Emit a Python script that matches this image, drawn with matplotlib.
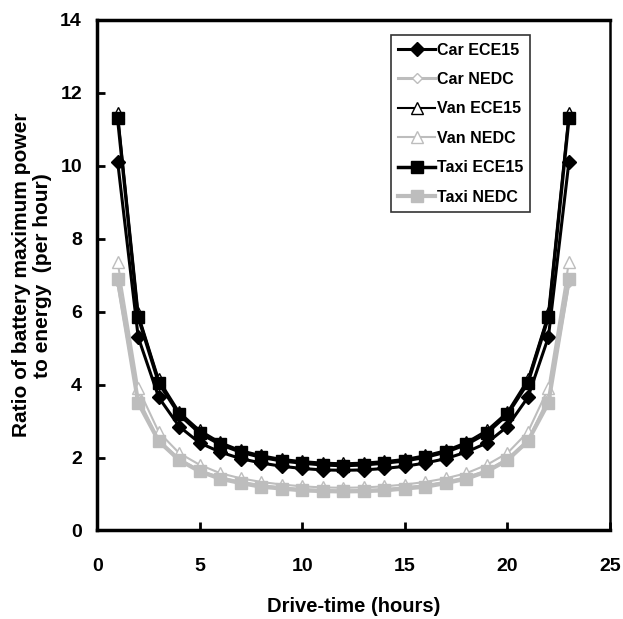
import numpy as np
import matplotlib.pyplot as plt

plt.rcParams["font.family"] = "Liberation Sans"
plt.rcParams["font.weight"] = "bold"

# Drive-time (hours)
hours = list(range(1, 24))

half_car_ece = [10.1, 5.3, 3.65, 2.85, 2.4, 2.15, 1.97, 1.85, 1.76, 1.7, 1.66, 1.65]
half_car_nedc = [6.8, 3.6, 2.45, 1.95, 1.63, 1.45, 1.32, 1.23, 1.17, 1.12, 1.1, 1.08]
half_van_ece = [11.45, 5.95, 4.15, 3.25, 2.75, 2.42, 2.2, 2.06, 1.96, 1.9, 1.86, 1.84]
half_van_nedc = [7.35, 3.9, 2.7, 2.12, 1.8, 1.57, 1.43, 1.33, 1.26, 1.21, 1.18, 1.17]
half_taxi_ece = [11.3, 5.85, 4.05, 3.18, 2.67, 2.36, 2.15, 2.01, 1.91, 1.85, 1.8, 1.78]
half_taxi_nedc = [6.9, 3.5, 2.45, 1.93, 1.62, 1.42, 1.3, 1.2, 1.15, 1.1, 1.08, 1.07]


def mirror(h):
    return h + h[-2::-1]


car_ece = mirror(half_car_ece)
car_nedc = mirror(half_car_nedc)
van_ece = mirror(half_van_ece)
van_nedc = mirror(half_van_nedc)
taxi_ece = mirror(half_taxi_ece)
taxi_nedc = mirror(half_taxi_nedc)

grey = '#bdbdbd'

fig = plt.figure(figsize=(6.23, 6.19), dpi=100)
ax = fig.add_axes([0.156, 0.143, 0.823, 0.825])

ax.plot(hours, car_ece, color='k', lw=2.2, marker='D', ms=7, mfc='k', mec='k',
        label='Car ECE15')
ax.plot(hours, car_nedc, color=grey, lw=2.2, marker='D', ms=5, mfc='white', mec=grey,
        label='Car NEDC')
ax.plot(hours, van_ece, color='k', lw=1.5, marker='^', ms=9, mfc='white', mec='k',
        label='Van ECE15')
ax.plot(hours, van_nedc, color=grey, lw=1.5, marker='^', ms=9, mfc='white', mec=grey,
        label='Van NEDC')
ax.plot(hours, taxi_ece, color='k', lw=2.5, marker='s', ms=8, mfc='k', mec='k',
        label='Taxi ECE15')
ax.plot(hours, taxi_nedc, color=grey, lw=3, marker='s', ms=8, mfc=grey, mec=grey,
        label='Taxi NEDC')

ax.set_xlim(0, 25)
ax.set_ylim(0, 14)
ax.set_xticks([0, 5, 10, 15, 20, 25])
ax.set_yticks(np.arange(0, 15, 2))
ax.tick_params(direction='in', length=6, width=2, labelsize=14)
ax.tick_params(axis='x', pad=20)
ax.tick_params(axis='y', pad=11)
for lab in ax.get_xticklabels() + ax.get_yticklabels():
    lab.set_fontweight('bold')
for s in ax.spines.values():
    s.set_linewidth(2.5)
ax.spines['right'].set_linewidth(1.8)

ax.set_xlabel('Drive-time (hours)', fontsize=14.5, fontweight='bold', labelpad=16)
ax.set_ylabel('Ratio of battery maximum power\nto energy  (per hour)', fontsize=15,
              fontweight='bold', labelpad=6, linespacing=1.1)

leg = ax.legend(loc='upper right', bbox_to_anchor=(0.86, 0.985), fontsize=11.5,
                frameon=True, fancybox=False, edgecolor='k', handlelength=2.3,
                handletextpad=0.1, borderpad=0.45, labelspacing=0.9)
leg.get_frame().set_linewidth(1.2)
for t in leg.get_texts():
    t.set_fontweight('bold')

fig.savefig('out.png', dpi=100)
